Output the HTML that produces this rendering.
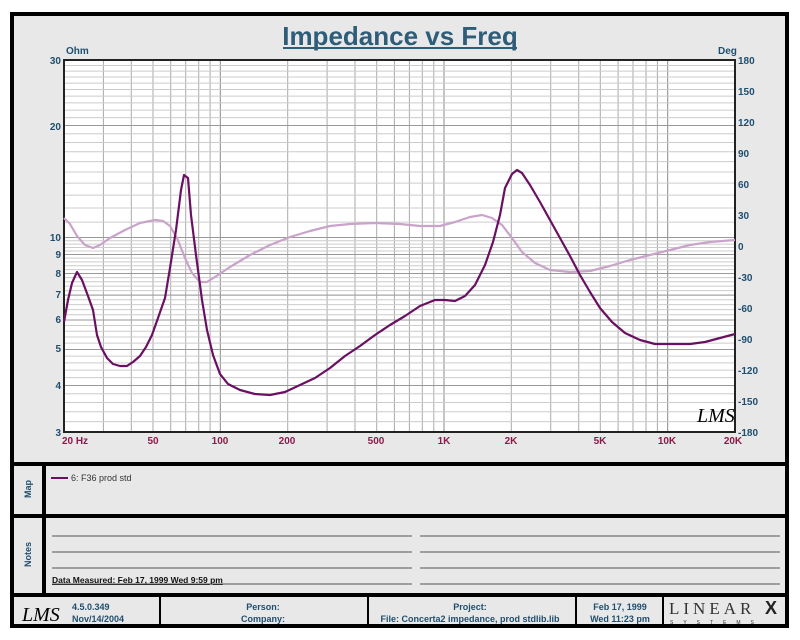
<!DOCTYPE html>
<html><head><meta charset="utf-8"><style>
body{margin:0;background:#fff;width:800px;height:640px;overflow:hidden}
svg{display:block;font-family:"Liberation Sans",Arial,sans-serif}
</style></head><body>
<svg id="s" width="800" height="640" viewBox="0 0 800 640" xmlns="http://www.w3.org/2000/svg">
<rect x="12" y="14" width="775" height="612" fill="#e8e8e8" stroke="#000" stroke-width="4"/>
<text x="400" y="45" text-anchor="middle" font-size="26" font-weight="bold" fill="#2e5d78">Impedance vs Freq</text>
<line x1="283" y1="48" x2="517" y2="48" stroke="#2e5d78" stroke-width="2"/>
<rect x="64" y="60" width="671" height="372" fill="#fff"/>
<g id="grid"></g>
<rect x="64" y="60" width="671" height="372" fill="none" stroke="#222" stroke-width="2"/>
<polyline fill="none" stroke="#c9a3c9" stroke-width="2.2" stroke-linejoin="round" points="64,218 70,224 77,236 85,245 93,248 100,245 110,238 125,230 140,223 155,220 163,221 170,226 177,238 185,258 192,273 200,282 207,282 215,277 230,267 250,255 270,245 290,237 310,231 330,226 350,224 375,223 400,224 420,226 440,226 455,222 470,217 482,215 492,218 502,225 512,238 522,252 535,263 550,270 570,272 590,271 610,266 630,260 650,255 670,250 690,245 710,242 735,240"/>
<polyline fill="none" stroke="#6a1062" stroke-width="2.2" stroke-linejoin="round" points="64,322 68,300 72,283 77,272 82,280 88,296 93,310 97,335 101,347 107,358 113,364 120,366 127,366 133,362 140,356 146,347 152,335 158,318 165,298 170,268 176,230 181,190 184,175 188,178 191,215 196,255 202,300 207,330 213,355 220,374 228,384 240,390 255,394 270,395 285,392 300,385 315,378 330,368 345,356 360,346 375,335 390,325 405,316 420,306 435,300 445,300 455,301 465,296 475,285 485,265 493,242 500,215 505,188 512,174 517,170 522,173 530,185 540,202 550,220 560,238 570,256 580,275 590,292 600,308 612,322 625,333 640,340 655,344 670,344 690,344 705,342 720,338 735,334"/>
<text x="697" y="422" font-size="20" font-style="italic" font-family="Liberation Serif,serif" fill="#000">LMS</text>
<g font-size="10" font-weight="bold" fill="#1f4e6e">
<text x="66" y="54">Ohm</text><text x="718" y="54">Deg</text>
<g text-anchor="end"><text x="61" y="64">30</text><text x="61" y="130">20</text><text x="61" y="241">10</text><text x="61" y="258">9</text><text x="61" y="277">8</text><text x="61" y="298">7</text><text x="61" y="323">6</text><text x="61" y="352">5</text><text x="61" y="389">4</text><text x="61" y="436">3</text></g>
<text x="738" y="64">180</text><text x="738" y="95">150</text><text x="738" y="126">120</text><text x="738" y="157">90</text><text x="738" y="188">60</text><text x="738" y="219">30</text><text x="738" y="250">0</text><text x="738" y="281">-30</text><text x="738" y="312">-60</text><text x="738" y="343">-90</text><text x="738" y="374">-120</text><text x="738" y="405">-150</text><text x="738" y="436">-180</text>
</g>
<g font-size="10" font-weight="bold" fill="#8b1a4a" text-anchor="middle">
<text x="75" y="444">20  Hz</text><text x="153" y="444">50</text><text x="220" y="444">100</text><text x="287" y="444">200</text><text x="376" y="444">500</text><text x="444" y="444">1K</text><text x="511" y="444">2K</text><text x="600" y="444">5K</text><text x="667" y="444">10K</text><text x="733" y="444">20K</text>
</g>
<g stroke="#000" stroke-width="4">
<line x1="12" y1="464" x2="787" y2="464"/><line x1="12" y1="516" x2="787" y2="516"/><line x1="12" y1="595" x2="787" y2="595"/>
<line x1="44" y1="464" x2="44" y2="595"/>
</g>
<g stroke="#000" stroke-width="2"><line x1="160" y1="595" x2="160" y2="626"/><line x1="368" y1="595" x2="368" y2="626"/><line x1="576" y1="595" x2="576" y2="626"/><line x1="663" y1="595" x2="663" y2="626"/></g>
<g font-size="9" font-weight="bold" fill="#1f4e6e"><text transform="translate(31,498) rotate(-90)">Map</text><text transform="translate(31,567) rotate(-90)">Notes</text></g>
<line x1="51" y1="478" x2="68" y2="478" stroke="#6a1062" stroke-width="2"/>
<text x="71" y="481" font-size="9" fill="#333">6: F36 prod std</text>
<g stroke="#555" stroke-width="1"><line x1="52" y1="536" x2="412" y2="536"/><line x1="52" y1="552" x2="412" y2="552"/><line x1="52" y1="568" x2="412" y2="568"/><line x1="52" y1="584" x2="412" y2="584"/>
<line x1="420" y1="536" x2="780" y2="536"/><line x1="420" y1="552" x2="780" y2="552"/><line x1="420" y1="568" x2="780" y2="568"/><line x1="420" y1="584" x2="780" y2="584"/></g>
<text x="52" y="583" font-size="8.5" font-weight="bold" fill="#111" text-decoration="underline">Data Measured: Feb 17, 1999  Wed  9:59 pm</text>
<text x="22" y="621" font-size="20" font-style="italic" font-family="Liberation Serif,serif">LMS</text>
<g font-size="9" font-weight="bold" fill="#1f4e6e"><text x="72" y="610">4.5.0.349</text><text x="72" y="622">Nov/14/2004</text>
<g text-anchor="middle"><text x="263" y="610">Person:</text><text x="263" y="622">Company:</text><text x="470" y="610">Project:</text><text x="470" y="622">File: Concerta2 impedance, prod stdlib.lib</text><text x="620" y="610">Feb 17, 1999</text><text x="620" y="622">Wed 11:23 pm</text></g></g>
<text x="669" y="614" font-size="17" font-family="Liberation Serif,serif" letter-spacing="4" fill="#333">LINEAR</text><text x="765" y="614" font-size="18" font-weight="bold" fill="#222">X</text>
<text x="670" y="624" font-size="5" letter-spacing="10" fill="#333">SYSTEMS</text>
</svg>
<script>
var g=document.getElementById('grid'),h='';
function X(f){return 64+Math.log10(f/20)*223.67}
function Y(o){return 432-Math.log10(o/3)*372}
for(var d=10;d<=10000;d*=10)for(var k=1;k<10;k++){var f=d*k;if(f<=20||f>=20000)continue;var x=X(f).toFixed(1);h+='<line x1="'+x+'" y1="60" x2="'+x+'" y2="432" stroke="'+(k==1?'#888':'#aaa')+'" stroke-width="1"/>';}
for(var o=3.2;o<10;o+=0.2){var y=Y(o).toFixed(1);h+='<line x1="64" y1="'+y+'" x2="735" y2="'+y+'" stroke="#ccc" stroke-width="1"/>';}
for(var o=4;o<=10;o++){var y=Y(o).toFixed(1);h+='<line x1="64" y1="'+y+'" x2="735" y2="'+y+'" stroke="#999" stroke-width="1"/>';}
for(var o=11;o<30;o++){var y=Y(o).toFixed(1);h+='<line x1="64" y1="'+y+'" x2="735" y2="'+y+'" stroke="'+(o==20?'#999':'#ccc')+'" stroke-width="1"/>';}
g.innerHTML=h;
</script>
</body></html>
